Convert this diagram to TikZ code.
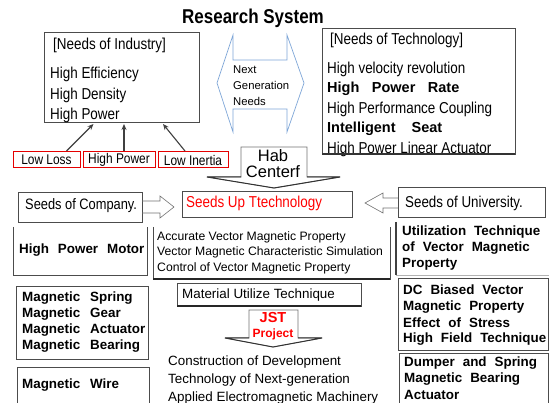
\documentclass[tikz,border=0pt]{standalone}
\usepackage{fontspec}
\setmainfont{Liberation Sans}
\newfontfamily\nf[FakeStretch=0.85]{Liberation Sans}
\usetikzlibrary{calc,arrows.meta}
\definecolor{lb}{HTML}{7FA7D8}
\newcommand\gp{\hspace{8pt}}
\begin{document}
\begin{tikzpicture}[x=1pt,y=-1pt,
  box/.style={draw=black!70, line width=0.6pt, inner sep=0, outer sep=0},
  nobox/.style={inner sep=0, outer sep=0},
  t/.style={inner sep=0, anchor=west},
  cond/.style={font=\nf\fontsize{15.8}{18}\selectfont},
  bd/.style={font=\bfseries\fontsize{13.4}{16}\selectfont},
  rg/.style={font=\fontsize{13.4}{16}\selectfont},
  sm/.style={font=\fontsize{12.2}{14}\selectfont},
  redbox/.style={draw=red!90!black, line width=1pt, inner sep=0, minimum height=16, font=\nf\fontsize{14}{16}\selectfont},
  arr/.style={-{Stealth[length=6pt,width=5pt]}, line width=1.1pt, draw=black!75},
  shp/.style={draw=black!55, line width=0.6pt},
  wing/.style={draw=black!80, line width=1pt},
]
\clip (0,0) rectangle (549,403);
\fill[white] (0,0) rectangle (549,403);

% title
\node[font=\nf\bfseries\fontsize{20}{24}\selectfont, inner sep=0] (title) at (253,18) {Research System};

% needs of industry
\node[box, minimum width=155, minimum height=90] (ind) at (121.5,77) {};
\node[t,cond] (i0) at (53,45) {[Needs of Industry]};
\node[t,cond] (i1) at (50,74) {High Efficiency};
\node[t,cond] (i2) at (50,95) {High Density};
\node[t,cond] (i3) at (50,115) {High Power};

% red boxes
\node[redbox, minimum width=67] (ll) at (46.5,160) {Low Loss};
\node[redbox, minimum width=72] (hp) at (119,160) {High Power};
\node[redbox, minimum width=70] (li) at (193,160) {Low Inertia};
\draw[arr] ($(ll.north)+(20,-0.5)$) -- ($(ind.south)+(-28,2)$);
\draw[arr] ($(hp.north)+(5,-0.5)$) -- ($(ind.south)+(2.5,2)$);
\draw[arr] ($(li.north)+(-8,-0.5)$) -- ($(ind.south)+(41.5,2)$);

% next generation double arrow
\draw[lb, line width=0.7pt] (217,83) -- (233,35) -- (233,60) -- (287,60) -- (287,35) -- (304,83)
  -- (287,132) -- (287,109) -- (233,109) -- (233,132) -- cycle;
\node[t,font=\fontsize{11.3}{13}\selectfont] (ng1) at (233,70) {Next};
\node[t,font=\fontsize{11.3}{13}\selectfont] (ng2) at (233,85) {Generation};
\node[t,font=\fontsize{11.3}{13}\selectfont] (ng3) at (233,101) {Needs};

% needs of technology
\node[box, minimum width=193, minimum height=126] (tech) at (418.5,91) {};
\node[t,cond] (t0) at (330,40) {[Needs of Technology]};
\node[t,cond] (t1) at (327,69) {High velocity revolution};
\node[t,font=\bfseries\fontsize{14.5}{17}\selectfont] (t2) at (327,89) {High\hspace{12.5pt}Power\hspace{12.5pt}Rate};
\node[t,cond] (t3) at (327,109) {High Performance Coupling};
\node[t,font=\bfseries\fontsize{14.5}{17}\selectfont] (t4) at (327,129) {Intelligent\hspace{16pt}Seat};
\node[t,cond] (t5) at (327,149) {High Power Linear Actuator};
\draw[black!80, line width=1.6pt] (tech.south west) -- (tech.south east);

% hab center
\draw[shp] (241,147) -- (307,147) -- (307,177) -- (340,177) -- (274,188) -- (207,177) -- (241,177) -- cycle;
\draw[wing] (241,177) -- (207,177) -- (274,188) -- (340,177) -- (307,177);
\node[inner sep=0, font=\fontsize{16.5}{19}\selectfont] (hab1) at (273,156) {Hab};
\node[inner sep=0, font=\fontsize{16.5}{19}\selectfont] (hab2) at (273,172) {Centerf};

% seeds row
\node[box, minimum width=170, minimum height=26] (su) at (267,204) {};
\node[t,cond,text=red] (sut) at (186,203) {Seeds Up Ttechnology};
\node[box, minimum width=124, minimum height=30] (sc) at (80,207) {};
\node[t,font=\nf\fontsize{15.1}{18}\selectfont] (sct) at (25,206) {Seeds of Company.};
\node[box, minimum width=147, minimum height=30] (sv) at (471.5,202) {};
\node[t,font=\nf\fontsize{15.7}{18}\selectfont] (svt) at (405,203) {Seeds of University.};
\draw[shp] (sc.east |- 0,201) -- (160,201) -- (160,196) -- (174,207) -- (160,218) -- (160,213) -- (sc.east |- 0,213);
\draw[shp] (sv.west |- 0,198) -- (383,198) -- (383,193) -- (365,203) -- (383,213) -- (383,208) -- (sv.west |- 0,208);

% high power motor
\node[nobox, minimum width=134, minimum height=48] (hpm) at (80,251) {};
\draw[black!70, line width=0.6pt] (hpm.north west) -- (hpm.south west) -- (hpm.south east) -- (hpm.north east);
\node[t,bd] (hpmt) at (19,250) {High\hspace{9pt}Power\hspace{9pt}Motor};

% accurate block
\node[nobox, minimum width=237, minimum height=52] (acc) at (271.5,253) {};
\draw[black!70, line width=0.6pt] (acc.north west) -- (acc.south west) -- (acc.south east) -- (acc.north east);
\draw[black!85, line width=1.4pt] (acc.south west) -- (acc.south east);
\node[t,sm] (a1) at (157,237) {Accurate Vector Magnetic Property};
\node[t,sm] (a2) at (157,252.5) {Vector Magnetic Characteristic Simulation};
\node[t,sm] (a3) at (157,268.5) {Control of Vector Magnetic Property};

% material utilize
\node[box, minimum width=184, minimum height=23] (mu) at (269,294.5) {};
\draw[black!85, line width=1.4pt] (mu.south west) -- (mu.south east);
\node[t,rg] (mut) at (182,295) {Material Utilize Technique};

% JST project
\draw[shp] (249,310) -- (298,310) -- (298,338) -- (322,338) -- (273,347) -- (225,338) -- (249,338) -- cycle;
\draw[wing] (249,338) -- (225,338) -- (273,347) -- (322,338) -- (298,338);
\node[inner sep=0, text=red, font=\bfseries\fontsize{14.5}{17}\selectfont] (jst) at (273,318) {JST};
\node[inner sep=0, text=red, font=\bfseries\fontsize{12}{14}\selectfont] (prj) at (273,334) {Project};

% construction text
\node[t,rg] (c1) at (168,362) {Construction of Development};
\node[t,rg] (c2) at (168,380) {Technology of Next-generation};
\node[t,rg] (c3) at (168,398) {Applied Electromagnetic Machinery};

% right column
\node[nobox, minimum width=160, minimum height=53] (ut) at (476,248.5) {};
\draw[black!75, line width=1.2pt] (ut.north west) -- (ut.south west);
\draw[black!30, line width=0.8pt] (ut.south west) -- (ut.south east);
\node[t,bd] (u1) at (402,232) {Utilization\gp Technique};
\node[t,bd] (u2) at (402,248) {of\gp Vector\gp Magnetic};
\node[t,bd] (u3) at (402,264) {Property};

\node[box, minimum width=150, minimum height=72] (dc) at (473,314) {};
\node[t,bd] (d1) at (403,290) {DC\gp Biased\gp Vector};
\node[t,bd] (d2) at (403,307) {Magnetic\gp Property};
\node[t,bd] (d3) at (403,323) {Effect\gp of\gp Stress};
\node[t,bd] (d4) at (403,339) {High\gp Field\gp Technique};

\node[box, minimum width=149, minimum height=67] (dm) at (473.5,386.5) {};
\node[t,bd] (m1) at (404,363) {Dumper\gp and\gp Spring};
\node[t,bd] (m2) at (404,379) {Magnetic\gp Bearing};
\node[t,bd] (m3) at (404,395) {Actuator};

% left column
\node[box, minimum width=132, minimum height=73] (ms) at (82,322.5) {};
\node[t,bd] (s1) at (22,298) {\makebox[68pt][l]{Magnetic}Spring};
\node[t,bd] (s2) at (22,314) {\makebox[68pt][l]{Magnetic}Gear};
\node[t,bd] (s3) at (22,330) {\makebox[68pt][l]{Magnetic}Actuator};
\node[t,bd] (s4) at (22,346) {\makebox[68pt][l]{Magnetic}Bearing};

\node[box, minimum width=132, minimum height=53] (mw) at (83,393.5) {};
\node[t,bd] (w1) at (22,385) {\makebox[68pt][l]{Magnetic}Wire};
\end{tikzpicture}
\end{document}
